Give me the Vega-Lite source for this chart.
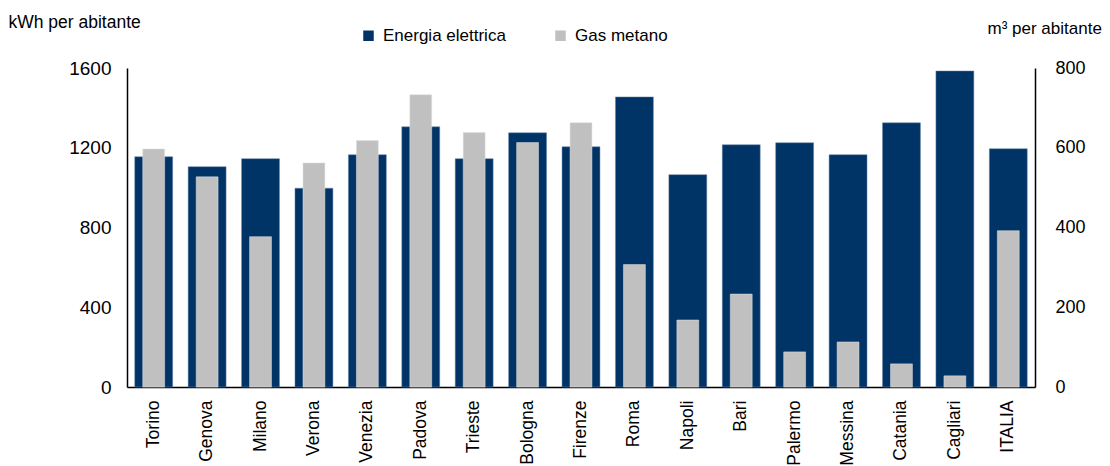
{
  "$schema": "https://vega.github.io/schema/vega-lite/v6.json",
  "width": 908,
  "height": 319,
  "autosize": {"type": "none"},
  "padding": {"left": 127, "top": 68, "right": 75, "bottom": 79},
  "background": "white",
  "config": {
    "view": {"stroke": null},
    "font": "Liberation Sans",
    "axis": {"grid": false, "ticks": false, "domainColor": "#000000", "domainWidth": 1.5, "labelColor": "#000000", "titleColor": "#000000", "labelFont": "Liberation Sans", "titleFont": "Liberation Sans", "titleFontWeight": "normal"}
  },
  "data": {
    "values": [
      {"citta": "Torino", "energia": 1155, "gas": 597},
      {"citta": "Genova", "energia": 1105, "gas": 527},
      {"citta": "Milano", "energia": 1145, "gas": 377},
      {"citta": "Verona", "energia": 997, "gas": 562},
      {"citta": "Venezia", "energia": 1165, "gas": 618},
      {"citta": "Padova", "energia": 1305, "gas": 733},
      {"citta": "Trieste", "energia": 1145, "gas": 638},
      {"citta": "Bologna", "energia": 1275, "gas": 613},
      {"citta": "Firenze", "energia": 1205, "gas": 663},
      {"citta": "Roma", "energia": 1455, "gas": 307},
      {"citta": "Napoli", "energia": 1065, "gas": 168},
      {"citta": "Bari", "energia": 1215, "gas": 233},
      {"citta": "Palermo", "energia": 1225, "gas": 88},
      {"citta": "Messina", "energia": 1165, "gas": 113},
      {"citta": "Catania", "energia": 1325, "gas": 58},
      {"citta": "Cagliari", "energia": 1585, "gas": 28},
      {"citta": "ITALIA", "energia": 1195, "gas": 392}
    ]
  },
  "encoding": {
    "x": {
      "field": "citta", "type": "nominal", "sort": null,
      "scale": {"paddingInner": 0, "paddingOuter": 0},
      "axis": {"title": null, "labelAngle": -90, "labelFontSize": 17.5, "labelPadding": 13, "labelAlign": "right", "labelBaseline": "middle"}
    },
    "color": {
      "type": "nominal",
      "scale": {"domain": ["Energia elettrica", "Gas metano"], "range": ["#003366", "#C0C0C0"]},
      "legend": {
        "title": null, "orient": "none", "direction": "horizontal",
        "legendX": 233, "legendY": -41,
        "symbolType": "square", "symbolSize": 110, "symbolStrokeWidth": 0,
        "labelFontSize": 17, "labelColor": "#000000", "labelFont": "Liberation Sans",
        "columnPadding": 46, "labelOffset": 6
      }
    }
  },
  "layer": [
    {
      "mark": {"type": "bar", "width": {"band": 0.71}, "stroke": "#6b86a8", "strokeWidth": 0.5},
      "encoding": {
        "y": {
          "field": "energia", "type": "quantitative",
          "scale": {"domain": [0, 1600], "nice": false},
          "axis": {
            "values": [0, 400, 800, 1200, 1600], "format": "d", "labelFontSize": 19, "labelPadding": 16,
            "title": "kWh per abitante", "titleAngle": 0, "titleAlign": "left", "titleBaseline": "alphabetic",
            "titleX": -119, "titleY": -41, "titleFontSize": 17.5
          }
        },
        "color": {"datum": "Energia elettrica"}
      }
    },
    {
      "mark": {"type": "bar", "width": {"band": 0.41}, "stroke": "#e0e0e0", "strokeWidth": 0.5},
      "encoding": {
        "y": {
          "field": "gas", "type": "quantitative",
          "scale": {"domain": [0, 800], "nice": false},
          "axis": {
            "orient": "right", "values": [0, 200, 400, 600, 800], "format": "d", "labelFontSize": 18, "labelPadding": 20,
            "title": "m³ per abitante", "titleAngle": 0, "titleAlign": "left", "titleBaseline": "alphabetic",
            "titleX": -48, "titleY": -35, "titleFontSize": 17
          }
        },
        "color": {"datum": "Gas metano"}
      }
    }
  ],
  "resolve": {"scale": {"y": "independent"}}
}
